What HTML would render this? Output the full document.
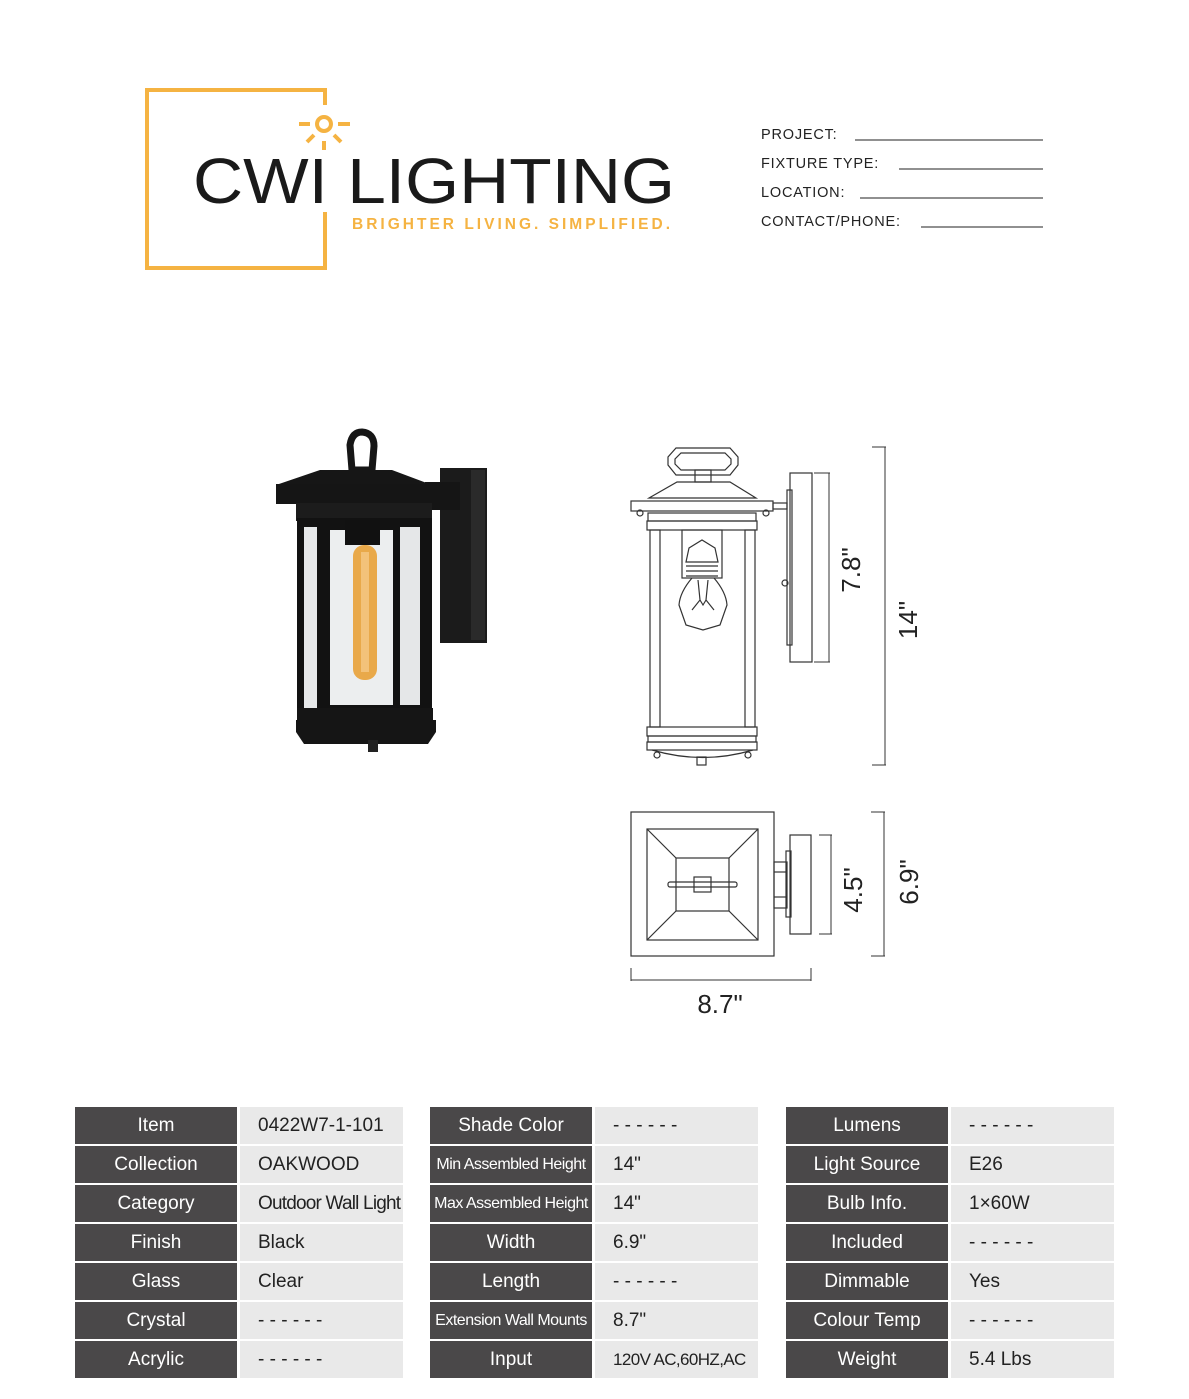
<!DOCTYPE html>
<html><head><meta charset="utf-8"><style>
body{margin:0;background:#fff;width:1189px;height:1399px;overflow:hidden;position:relative;font-family:"Liberation Sans",sans-serif}
.t{position:absolute;font-family:"Liberation Sans",sans-serif;font-size:19px}
.l{position:absolute;background:#4a4849;color:#fff;text-align:center;width:162px;height:37px;line-height:37px}
.v{position:absolute;background:#e9e9e9;color:#222;width:163px;height:37px;line-height:37px;padding-left:18px;box-sizing:border-box;white-space:nowrap}
.n{font-size:16px;letter-spacing:-0.5px}
</style></head><body>
<svg width="1189" height="1399" style="position:absolute;left:0;top:0" xmlns="http://www.w3.org/2000/svg">
<g fill="none" stroke="#f5b342" stroke-width="4">
<polyline points="325,105 325,90 147,90 147,268 325,268 325,212"/>
<circle cx="324" cy="124" r="7"/>
<line x1="299" y1="124" x2="310" y2="124"/><line x1="338" y1="124" x2="350" y2="124"/>
<line x1="307" y1="142" x2="314" y2="135"/><line x1="341" y1="142" x2="334" y2="135"/>
<line x1="324" y1="141" x2="324" y2="150"/>
</g>
<text x="193" y="203" font-family="Liberation Sans" font-size="64" fill="#1a1a1a" textLength="482" lengthAdjust="spacingAndGlyphs">CWI LIGHTING</text>
<text x="352" y="229" font-family="Liberation Sans" font-size="15.5" font-weight="bold" fill="#f5b342" letter-spacing="2" textLength="320" lengthAdjust="spacing">BRIGHTER LIVING. SIMPLIFIED.</text>
<g font-family="Liberation Sans" font-size="14.5" fill="#222" letter-spacing="0.8">
<text x="761" y="139">PROJECT:</text><text x="761" y="168">FIXTURE TYPE:</text><text x="761" y="197">LOCATION:</text><text x="761" y="226">CONTACT/PHONE:</text>
</g>
<g stroke="#222" stroke-width="1"><line x1="855" y1="140" x2="1043" y2="140"/><line x1="899" y1="169" x2="1043" y2="169"/><line x1="860" y1="198" x2="1043" y2="198"/><line x1="921" y1="227" x2="1043" y2="227"/></g>

<rect x="440" y="468" width="47" height="175" fill="#1b1b1b"/>
<rect x="471" y="470" width="14" height="170" fill="#2a2a2a"/>
<rect x="425" y="482" width="35" height="28" fill="#151515"/>
<path d="M352,470 L350,445 Q352,432 362,432 Q374,433 374,446 L372,470 Z" fill="none" stroke="#161616" stroke-width="7"/>
<polygon points="320,470 392,470 432,485 276,485" fill="#161616"/>
<rect x="276" y="484" width="165" height="20" fill="#151515"/>
<rect x="296" y="503" width="136" height="18" fill="#1c1c1c"/>
<rect x="297" y="518" width="135" height="200" fill="#121212"/>
<rect x="304" y="527" width="13" height="183" fill="#e7e9ea"/>
<rect x="330" y="530" width="63" height="175" fill="#eceeef"/>
<rect x="400" y="527" width="20" height="178" fill="#e5e7e8"/>
<rect x="345" y="520" width="35" height="25" fill="#111"/>
<rect x="353" y="545" width="24" height="135" rx="11" fill="#e9a94a"/>
<rect x="361" y="552" width="8" height="120" fill="#f3c27a"/>
<rect x="297" y="708" width="136" height="14" fill="#151515"/>
<polygon points="296,720 436,720 436,732 428,744 304,744 296,732" fill="#151515"/>
<rect x="368" y="740" width="10" height="12" fill="#222"/>

<g fill="none" stroke="#333" stroke-width="1.2">
<polygon points="676,448 730,448 738,457 738,465 730,475 676,475 668,465 668,457"/>
<polygon points="681,453 725,453 731,459 731,464 725,470 681,470 675,464 675,459"/>
<rect x="695" y="470" width="16" height="12"/>
<polygon points="677,482 730,482 756,498 649,498"/>
<rect x="631" y="501" width="142" height="10"/>
<circle cx="640" cy="513" r="3"/><circle cx="766" cy="513" r="3"/>
<rect x="648" y="513" width="108" height="8"/>
<rect x="647" y="521" width="110" height="9"/>
<rect x="650" y="530" width="10" height="197"/><rect x="745" y="530" width="10" height="197"/>
<rect x="682" y="530" width="40" height="48"/>
<polygon points="686,562 689,548 702,540 715,548 718,562"/>
<line x1="686" y1="566" x2="718" y2="566"/><line x1="686" y1="571" x2="718" y2="571"/><line x1="686" y1="576" x2="718" y2="576"/>
<path d="M692,578 Q680,592 679,605 L686,625 L703,630 L720,625 L727,605 Q726,592 714,578"/>
<path d="M698,580 L700,600 L692,610 M708,580 L706,600 L714,610 M700,600 L703,605 L706,600"/>
<rect x="647" y="727" width="110" height="9"/>
<rect x="648" y="736" width="108" height="6"/>
<rect x="647" y="742" width="110" height="8"/>
<path d="M652,750 Q703,765 753,750"/>
<circle cx="657" cy="755" r="3"/><circle cx="748" cy="755" r="3"/>
<rect x="697" y="757" width="9" height="8"/>
<rect x="773" y="503" width="14" height="6"/>
<rect x="787" y="490" width="5" height="155"/>
<rect x="790" y="473" width="22" height="189"/>
<circle cx="785" cy="583" r="3"/>
</g>
<g stroke="#333" stroke-width="1">
<line x1="829" y1="473" x2="829" y2="662"/><line x1="814" y1="473" x2="830" y2="473"/><line x1="814" y1="662" x2="830" y2="662"/>
<line x1="885" y1="447" x2="885" y2="765"/><line x1="872" y1="447" x2="886" y2="447"/><line x1="872" y1="765" x2="886" y2="765"/>
</g>
<text transform="translate(860,570) rotate(-90)" text-anchor="middle" font-family="Liberation Sans" font-size="26" fill="#222">7.8"</text>
<text transform="translate(917,620) rotate(-90)" text-anchor="middle" font-family="Liberation Sans" font-size="26" fill="#222">14"</text>

<g fill="none" stroke="#333" stroke-width="1.2">
<rect x="631" y="812" width="143" height="144"/>
<rect x="647" y="829" width="111" height="111"/>
<rect x="676" y="858" width="53" height="53"/>
<line x1="647" y1="829" x2="676" y2="858"/><line x1="758" y1="829" x2="729" y2="858"/>
<line x1="647" y1="940" x2="676" y2="911"/><line x1="758" y1="940" x2="729" y2="911"/>
<rect x="668" y="882" width="69" height="5" rx="2"/>
<rect x="694" y="877" width="17" height="15"/>
<rect x="774" y="862" width="13" height="46"/>
<line x1="774" y1="872" x2="787" y2="872"/><line x1="774" y1="897" x2="787" y2="897"/>
<rect x="786" y="851" width="5" height="66"/>
<rect x="790" y="835" width="21" height="99"/>
</g>
<g stroke="#333" stroke-width="1">
<line x1="831" y1="835" x2="831" y2="934"/><line x1="819" y1="835" x2="832" y2="835"/><line x1="819" y1="934" x2="832" y2="934"/>
<line x1="884" y1="812" x2="884" y2="956"/><line x1="871" y1="812" x2="885" y2="812"/><line x1="871" y1="956" x2="885" y2="956"/>
<line x1="631" y1="980" x2="811" y2="980"/><line x1="631" y1="968" x2="631" y2="981"/><line x1="811" y1="968" x2="811" y2="981"/>
</g>
<text transform="translate(862,890) rotate(-90)" text-anchor="middle" font-family="Liberation Sans" font-size="26" fill="#222">4.5"</text>
<text transform="translate(918,882) rotate(-90)" text-anchor="middle" font-family="Liberation Sans" font-size="26" fill="#222">6.9"</text>
<text x="720" y="1013" text-anchor="middle" font-family="Liberation Sans" font-size="26" fill="#222">8.7"</text>
</svg>

<div class="t">
<div class="l" style="left:75px;top:1107px">Item</div><div class="v" style="left:240px;top:1107px">0422W7-1-101</div>
<div class="l" style="left:75px;top:1146px">Collection</div><div class="v" style="left:240px;top:1146px">OAKWOOD</div>
<div class="l" style="left:75px;top:1185px">Category</div><div class="v" style="left:240px;top:1185px;letter-spacing:-0.8px">Outdoor Wall Light</div>
<div class="l" style="left:75px;top:1224px">Finish</div><div class="v" style="left:240px;top:1224px">Black</div>
<div class="l" style="left:75px;top:1263px">Glass</div><div class="v" style="left:240px;top:1263px">Clear</div>
<div class="l" style="left:75px;top:1302px">Crystal</div><div class="v" style="left:240px;top:1302px">- - - - - -</div>
<div class="l" style="left:75px;top:1341px">Acrylic</div><div class="v" style="left:240px;top:1341px">- - - - - -</div>

<div class="l" style="left:430px;top:1107px">Shade Color</div><div class="v" style="left:595px;top:1107px">- - - - - -</div>
<div class="l n" style="left:430px;top:1146px">Min Assembled Height</div><div class="v" style="left:595px;top:1146px">14"</div>
<div class="l n" style="left:430px;top:1185px">Max Assembled Height</div><div class="v" style="left:595px;top:1185px">14"</div>
<div class="l" style="left:430px;top:1224px">Width</div><div class="v" style="left:595px;top:1224px">6.9"</div>
<div class="l" style="left:430px;top:1263px">Length</div><div class="v" style="left:595px;top:1263px">- - - - - -</div>
<div class="l n" style="left:430px;top:1302px">Extension Wall Mounts</div><div class="v" style="left:595px;top:1302px">8.7"</div>
<div class="l" style="left:430px;top:1341px">Input</div><div class="v" style="left:595px;top:1341px;font-size:17px;letter-spacing:-0.6px">120V AC,60HZ,AC</div>

<div class="l" style="left:786px;top:1107px">Lumens</div><div class="v" style="left:951px;top:1107px">- - - - - -</div>
<div class="l" style="left:786px;top:1146px">Light Source</div><div class="v" style="left:951px;top:1146px">E26</div>
<div class="l" style="left:786px;top:1185px">Bulb Info.</div><div class="v" style="left:951px;top:1185px">1×60W</div>
<div class="l" style="left:786px;top:1224px">Included</div><div class="v" style="left:951px;top:1224px">- - - - - -</div>
<div class="l" style="left:786px;top:1263px">Dimmable</div><div class="v" style="left:951px;top:1263px">Yes</div>
<div class="l" style="left:786px;top:1302px">Colour Temp</div><div class="v" style="left:951px;top:1302px">- - - - - -</div>
<div class="l" style="left:786px;top:1341px">Weight</div><div class="v" style="left:951px;top:1341px">5.4 Lbs</div>
</div>
</body></html>
